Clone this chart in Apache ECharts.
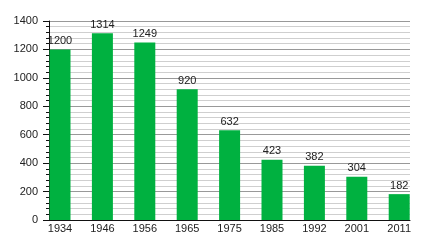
<!DOCTYPE html>
<html>
<head>
<meta charset="utf-8">
<script src="https://cdn.jsdelivr.net/npm/echarts@6/dist/echarts.min.js"></script>
<style>html,body{margin:0;padding:0;background:#fff}#c{width:440px;height:240px}</style>
</head>
<body>
<div id="c"></div>
<script>
var categories = ['1934','1946','1956','1965','1975','1985','1992','2001','2011'];
var values = [1200,1314,1249,920,632,423,382,304,182];
var yMin = 0, yMax = 1400, yStep = 200;

var chart = echarts.init(document.getElementById('c'), null, {renderer:'canvas'});
var font = 'Liberation Sans, Arial, Helvetica, sans-serif';
chart.setOption({
  animation: false,
  backgroundColor: '#fff',
  grid: [
    {left: 49, right: 30, top: 21, bottom: 20},
    {left: 38.8, width: 381.6, top: 21, bottom: 20}
  ],
  xAxis: [
    {gridIndex: 0, type: 'value', min: 0, max: 1,
     axisLine: {show: true, onZero: false, lineStyle: {color: '#111', width: 1}},
     axisTick: {show: false}, axisLabel: {show: false}, splitLine: {show: false}},
    {gridIndex: 1, type: 'category', data: categories,
     axisLine: {show: false}, axisTick: {show: false},
     axisLabel: {color: '#222', fontSize: 11, fontFamily: font, margin: 3}}
  ],
  yAxis: [
    {gridIndex: 0, type: 'value', min: yMin, max: yMax, interval: yStep,
     axisLine: {show: true, lineStyle: {color: '#111'}},
     axisTick: {show: true, length: 6, lineStyle: {color: '#111'}},
     minorTick: {show: true, splitNumber: 5, length: 3, lineStyle: {color: '#111'}},
     axisLabel: {color: '#222', fontSize: 11, fontFamily: font, margin: 11,
                 formatter: function (v) { return String(v); }},
     splitLine: {show: true, lineStyle: {color: '#999', width: 1}},
     minorSplitLine: {show: true, lineStyle: {color: '#cfcfcf', width: 1}}},
    {gridIndex: 1, type: 'value', min: yMin, max: yMax, show: false}
  ],
  series: [{
    type: 'bar', xAxisIndex: 1, yAxisIndex: 1,
    data: values, barWidth: 21,
    itemStyle: {color: '#00b140'},
    label: {show: true, position: 'top', distance: 3, color: '#222', fontSize: 11, fontFamily: font}
  }]
});
</script>
</body>
</html>
